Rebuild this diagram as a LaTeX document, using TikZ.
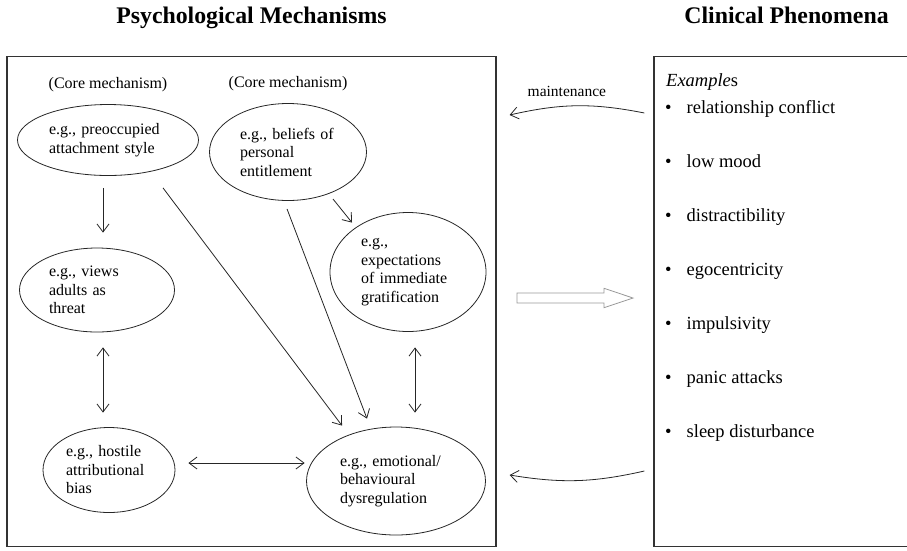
\documentclass[tikz,border=0pt]{standalone}
\usepackage{fontspec}
\setmainfont{Liberation Serif}
\usetikzlibrary{shapes.geometric, arrows.meta, positioning}

\begin{document}
\begin{tikzpicture}[x=1pt, y=-1pt,
        >={Straight Barb[length=8pt, width=12pt]},
        mech/.style = {
            ellipse,
            draw=black!85,
            line width=0.8pt,
            inner sep=0pt,
            align=left,
            font=\fontsize{16}{18.5}\selectfont
        },
        frame/.style = {
            rectangle,
            draw=black!80,
            line width=1.2pt,
            inner sep=0pt
        },
        heading/.style = {
            anchor=base,
            inner sep=0pt,
            font=\bfseries\fontsize{23.8}{28}\selectfont
        },
        item/.style = {
            anchor=base west,
            inner sep=0pt,
            font=\fontsize{18.5}{22}\selectfont
        },
        note/.style = {
            inner sep=0pt,
            font=\fontsize{16}{18.5}\selectfont
        },
        link/.style = {line width=0.8pt, draw=black!85}  ]

        \useasboundingbox (0,0) rectangle (907,550);

        \node (mech_title) [heading] at (251.5,23) {Psychological Mechanisms};
        \node (clin_title) [heading] at (786.5,23) {Clinical Phenomena};

        \node (mech_box) [frame, minimum width=489pt, minimum height=490pt] at (251.5,301.5) {};
        \node (clin_box) [frame, minimum width=262pt, minimum height=490pt] at (785,301.5) {};

        \node (attach) [mech, minimum width=181pt, minimum height=71pt, text width=118pt] at (108,140)
            {e.g., preoccupied\\attachment style};
        \node (belief) [mech, minimum width=157pt, minimum height=97pt, text width=96pt] at (288,152)
            {e.g., beliefs of\\personal\\entitlement};
        \node (expect) [mech, minimum width=156pt, minimum height=119pt, text width=94pt] at (408,272)
            {e.g.,\\expectations\\of immediate\\gratification};
        \node (threat) [mech, minimum width=155pt, minimum height=84pt, text width=96pt] at (97,290)
            {e.g., views\\adults as\\threat};
        \node (hostile) [mech, minimum width=132pt, minimum height=85pt, text width=86pt] at (109,470)
            {e.g., hostile\\attributional\\bias};
        \node (dysreg) [mech, minimum width=179pt, minimum height=108pt, text width=112pt] at (396,481)
            {e.g., emotional/\\behavioural\\dysregulation};

        \node (core_a) [note, above=12pt of attach] {(Core mechanism)};
        \node (core_b) [note, above=12pt of belief] {(Core mechanism)};

        \draw[link, ->] ([xshift=-5pt, yshift=-12pt]attach.south) -- ([xshift=6pt, yshift=15pt]threat.north);
        \draw[link, ->] ([xshift=55pt, yshift=-12pt]attach.south) -- ([xshift=-54pt, yshift=1pt]dysreg.north);
        \draw[link, ->] ([xshift=-1pt, yshift=-8pt]belief.south) -- ([xshift=-29pt, yshift=8pt]dysreg.north);
        \draw[link, ->] ([xshift=45pt, yshift=-47pt]belief.center) -- ([xshift=-56pt, yshift=-10.5pt]expect.north);
        \draw[link, <->] ([xshift=6pt, yshift=-15pt]threat.south) -- ([xshift=-6pt, yshift=14.5pt]hostile.north);
        \draw[link, <->] ([xshift=7pt, yshift=-15.5pt]expect.south) -- ([xshift=19pt, yshift=14pt]dysreg.north);
        \draw[link, <->] ([xshift=13pt, yshift=7pt]hostile.east) -- ([xshift=-1.5pt, yshift=18pt]dysreg.west);

        % hollow arrow between the two panels
        \draw[line width=0.8pt, draw=black!40, fill=white] (517,293) -- (604,293) -- (604,288.3) -- (633,298)
            -- (604,307.7) -- (604,303) -- (517,303) -- cycle;

        \draw[link, ->] ([xshift=-9pt, yshift=188.5pt]clin_box.west) to[bend right=12]
            node[note, midway, above=9pt, xshift=-10pt, font=\fontsize{15.5}{18}\selectfont] (maint_label) {maintenance}
            ([xshift=13pt, yshift=186.5pt]mech_box.east);
        \draw[link, ->] ([xshift=-9pt, yshift=-169.5pt]clin_box.west) to[bend left=11]
            ([xshift=13pt, yshift=-173.5pt]mech_box.east);

        \node (examples) [item] at (666,86) {\textit{Example}s};
        \node (conflict) [item] at (665,113) {\textbullet\hspace{15pt}relationship conflict};
        \node (mood) [item, below=54pt of conflict.base west, anchor=base west] {\textbullet\hspace{15pt}low mood};
        \node (distract) [item, below=54pt of mood.base west, anchor=base west] {\textbullet\hspace{15pt}distractibility};
        \node (ego) [item, below=54pt of distract.base west, anchor=base west] {\textbullet\hspace{15pt}egocentricity};
        \node (impulse) [item, below=54pt of ego.base west, anchor=base west] {\textbullet\hspace{15pt}impulsivity};
        \node (panic) [item, below=54pt of impulse.base west, anchor=base west] {\textbullet\hspace{15pt}panic attacks};
        \node (sleep) [item, below=54pt of panic.base west, anchor=base west] {\textbullet\hspace{15pt}sleep disturbance};
    \end{tikzpicture}
\end{document}
